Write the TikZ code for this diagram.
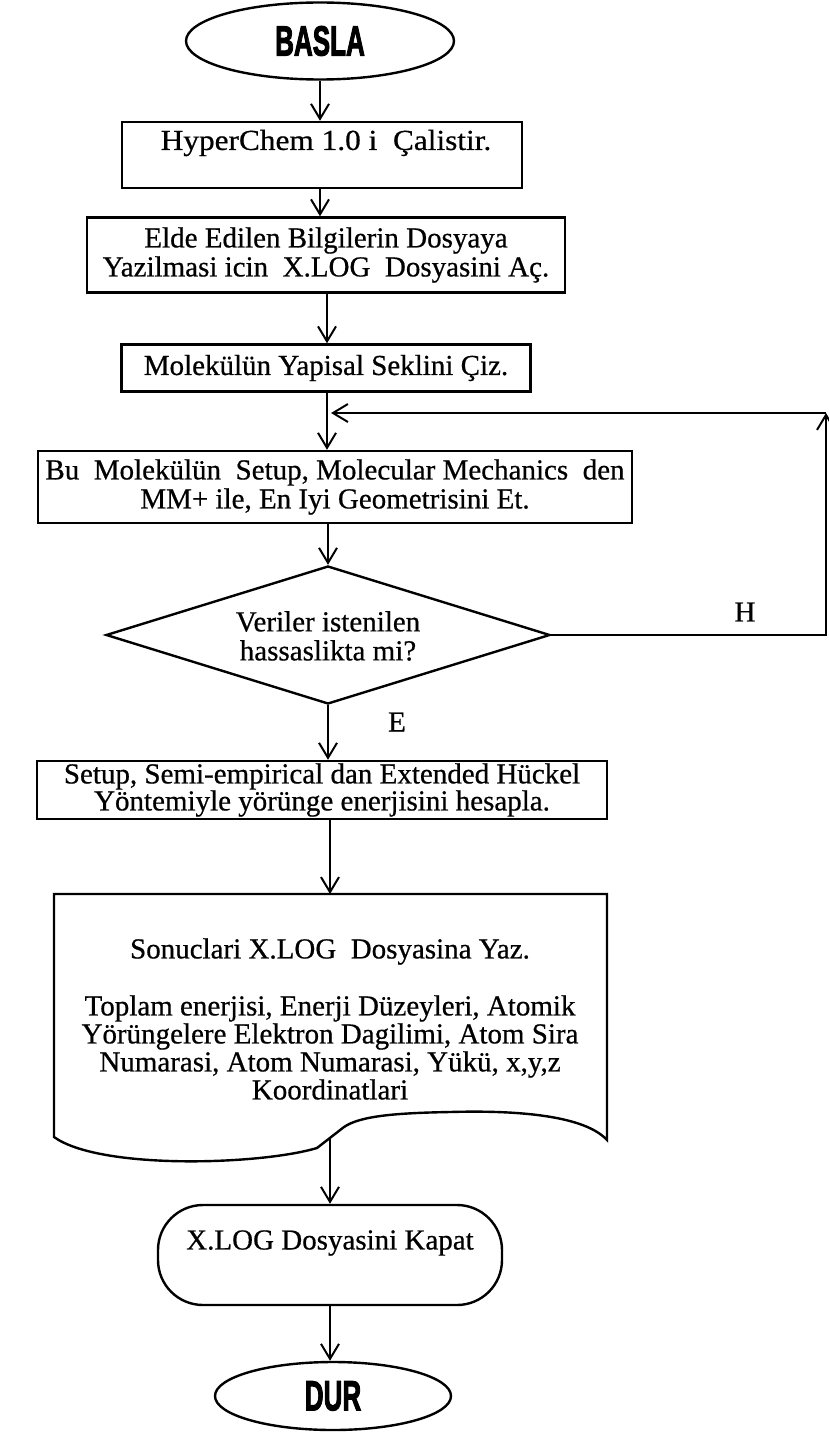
\documentclass[tikz,border=0pt]{standalone}
\usepackage{fontspec}
\setmainfont{Liberation Serif}[FakeBold=0.6]
\newfontfamily\heavyfont[FakeBold=3]{Liberation Sans}
\usetikzlibrary{shapes.geometric,arrows.meta}
\begin{document}
\begin{tikzpicture}[x=1pt,y=-1pt,
  arr/.style={-{Straight Barb[length=15pt,width=18pt,line width=2pt]}, line width=2pt},
  shapebox/.style={draw, line width=2.4pt, rectangle, inner sep=0pt, align=center},
  txt/.style={font=\fontsize{29}{29}\selectfont, align=center},
  term/.style={draw, line width=2.4pt, ellipse, inner sep=0pt},
  heavy/.style={font=\heavyfont\bfseries\fontsize{42}{42}\selectfont},
  lbl/.style={font=\fontsize{29}{29}\selectfont}
]
\useasboundingbox (0,0) rectangle (829,1439);
% terminals
\node[term, minimum width=268pt, minimum height=77pt, heavy] (start) at (320,41) {\scalebox{0.62}[1]{BASLA}};
% box 1
\node[shapebox, minimum width=400pt, minimum height=66pt] (b1) at (322,155) {};
\node[txt] (b1t) at (326,143) {\scalebox{1.08}[1]{HyperChem 1.0 i\ \ Çalistir.}};
% box 2
\node[shapebox, txt, minimum width=478pt, minimum height=75pt] (b2) at (326,255) {Elde Edilen Bilgilerin Dosyaya\\Yazilmasi icin\ \ X.LOG\ \ Dosyasini Aç.};
% box 3
\node[shapebox, txt, minimum width=409pt, minimum height=47pt] (b3) at (326,368) {Molekülün Yapisal Seklini Çiz.};
% box 4
\node[shapebox, txt, minimum width=594pt, minimum height=72pt] (b4) at (335,487) {Bu\ \ Molekülün\ \ Setup, Molecular Mechanics\ \ den\\MM+ ile, En Iyi Geometrisini Et.};
% decision
\node[draw, line width=2.4pt, diamond, minimum width=444pt, minimum height=138pt, inner sep=0pt] (dia) at (328,635) {};
\node[txt] (diat) at (328,636) {Veriler istenilen\\hassaslikta mi?};
% box 5
\node[shapebox, txt, font=\fontsize{29}{27}\selectfont, minimum width=570pt, minimum height=58pt] (b5) at (322,790) {Setup, Semi-empirical dan Extended Hückel\\Yöntemiyle yörünge enerjisini hesapla.};
% document
\draw[line width=2.4pt] (54,894) -- (607,894) -- (607,1140)
  .. controls (585,1116) and (520,1110) .. (450,1112)
  .. controls (395,1113) and (360,1116) .. (344,1127)
  -- (317,1148)
  .. controls (260,1165) and (100,1170) .. (54,1137) -- cycle;
\coordinate (doctop) at (330,894);
\coordinate (docbot) at (330,1137);
\node[txt, font=\fontsize{29}{28}\selectfont] (doc) at (330,1019) {Sonuclari X.LOG\ \ Dosyasina Yaz.\\[29pt]Toplam enerjisi, Enerji Düzeyleri, Atomik\\Yörüngelere Elektron Dagilimi, Atom Sira\\Numarasi, Atom Numarasi, Yükü, x,y,z\\Koordinatlari};
% close
\node[draw, line width=2.4pt, rectangle, rounded corners=45pt, minimum width=344pt, minimum height=100pt] (kap) at (330,1255) {};
\node[txt] (kapt) at (330,1243) {X.LOG Dosyasini Kapat};
\node[term, minimum width=236pt, minimum height=68pt, heavy] (stop) at (333,1396) {\scalebox{0.62}[1]{DUR}};
% labels
\node[lbl] (H) at (745,612) {H};
\node[lbl] (E) at (397,722) {E};
% connectors
\coordinate (join) at (327,413);
\coordinate (rc) at (826,635);
\coordinate (corner) at (826,413);
\draw[arr] (start.south) -- (b1.north -| start.south);
\draw[arr] (b1.south -| start.south) -- (b2.north -| start.south);
\draw[arr] (b2.south -| join) -- (b3.north -| join);
\draw[arr] (b3.south -| join) -- (b4.north -| join);
\draw[arr] (b4.south -| dia.north) -- (dia.north);
\draw[arr] (dia.south) -- (dia.south |- b5.north);
\draw[arr] (b5.south -| doctop) -- (doctop);
\draw[arr] (docbot) -- (kap.north);
\draw[arr] (kap.south) -- (kap.south |- stop.north);
\draw[arr] (dia.east) -- (rc) -- (corner);
\draw[arr, shorten >=4pt] (corner) -- (join);
\end{tikzpicture}
\end{document}
